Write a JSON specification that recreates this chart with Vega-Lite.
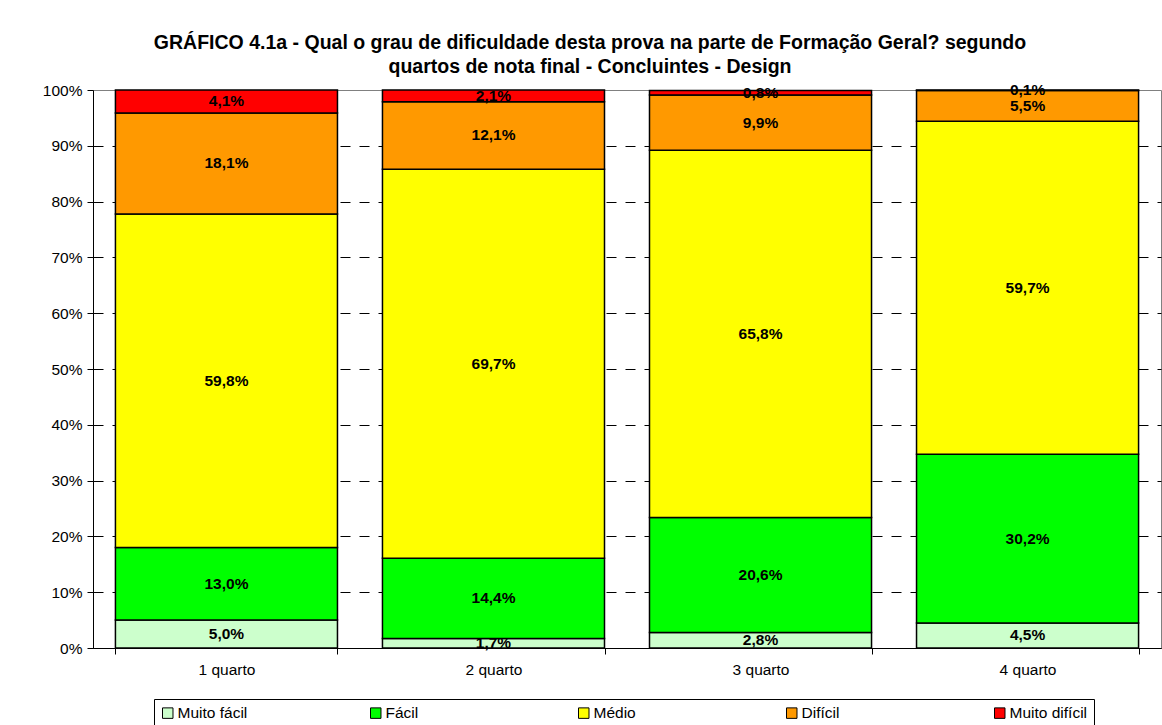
{
  "$schema": "https://vega.github.io/schema/vega-lite/v6.json",
  "width": 1068,
  "height": 558,
  "autosize": {"type": "none"},
  "padding": {"left": 93, "top": 90, "right": 1, "bottom": 77},
  "background": "white",
  "config": {
    "locale": {"number": {"decimal": ",", "thousands": ".", "grouping": [3], "currency": ["R$", ""]}},
    "font": "Liberation Sans",
    "view": {"stroke": "#808080", "strokeWidth": 1}
  },
  "title": {
    "text": ["GRÁFICO 4.1a - Qual o grau de dificuldade desta prova na parte de Formação Geral? segundo", "quartos de nota final  - Concluintes - Design"],
    "fontSize": 19.5,
    "fontWeight": "bold",
    "font": "Liberation Sans",
    "color": "black",
    "anchor": "middle",
    "dx": -37,
    "lineHeight": 24,
    "offset": 6
  },
  "data": {
    "values": [
      {"quarto": "1 quarto", "categoria": "Muito fácil", "nivel": 1, "pct": 0.050},
      {"quarto": "1 quarto", "categoria": "Fácil", "nivel": 2, "pct": 0.130},
      {"quarto": "1 quarto", "categoria": "Médio", "nivel": 3, "pct": 0.598},
      {"quarto": "1 quarto", "categoria": "Difícil", "nivel": 4, "pct": 0.181},
      {"quarto": "1 quarto", "categoria": "Muito difícil", "nivel": 5, "pct": 0.041},
      {"quarto": "2 quarto", "categoria": "Muito fácil", "nivel": 1, "pct": 0.017},
      {"quarto": "2 quarto", "categoria": "Fácil", "nivel": 2, "pct": 0.144},
      {"quarto": "2 quarto", "categoria": "Médio", "nivel": 3, "pct": 0.697},
      {"quarto": "2 quarto", "categoria": "Difícil", "nivel": 4, "pct": 0.121},
      {"quarto": "2 quarto", "categoria": "Muito difícil", "nivel": 5, "pct": 0.021},
      {"quarto": "3 quarto", "categoria": "Muito fácil", "nivel": 1, "pct": 0.028},
      {"quarto": "3 quarto", "categoria": "Fácil", "nivel": 2, "pct": 0.206},
      {"quarto": "3 quarto", "categoria": "Médio", "nivel": 3, "pct": 0.658},
      {"quarto": "3 quarto", "categoria": "Difícil", "nivel": 4, "pct": 0.099},
      {"quarto": "3 quarto", "categoria": "Muito difícil", "nivel": 5, "pct": 0.008},
      {"quarto": "4 quarto", "categoria": "Muito fácil", "nivel": 1, "pct": 0.045},
      {"quarto": "4 quarto", "categoria": "Fácil", "nivel": 2, "pct": 0.302},
      {"quarto": "4 quarto", "categoria": "Médio", "nivel": 3, "pct": 0.597},
      {"quarto": "4 quarto", "categoria": "Difícil", "nivel": 4, "pct": 0.055},
      {"quarto": "4 quarto", "categoria": "Muito difícil", "nivel": 5, "pct": 0.001}
    ]
  },
  "layer": [
    {
      "mark": {"type": "bar", "stroke": "black", "strokeWidth": 1.5},
      "encoding": {
        "x": {
          "field": "quarto", "type": "nominal",
          "scale": {"paddingInner": 0.1685, "paddingOuter": 0.084},
          "axis": {
            "title": null, "labelAngle": 0, "labelFontSize": 15.5, "labelColor": "black",
            "labelFont": "Liberation Sans", "tickBand": "extent", "tickColor": "black",
            "tickSize": 6, "domainColor": "black", "labelPadding": 8, "grid": false
          }
        },
        "y": {
          "field": "pct", "type": "quantitative", "stack": "zero",
          "scale": {"domain": [0, 1], "nice": false},
          "axis": {
            "title": null,
            "values": [0, 0.1, 0.2, 0.3, 0.4, 0.5, 0.6, 0.7, 0.8, 0.9, 1],
            "format": ".0%", "labelFontSize": 15.5, "labelColor": "black",
            "labelFont": "Liberation Sans", "tickColor": "black", "tickSize": 6,
            "domainColor": "black", "labelPadding": 5, "grid": true,
            "gridColor": "black", "gridDash": [10, 9],
            "gridOpacity": {"condition": {"test": "datum.value >= 1", "value": 0}, "value": 1}
          }
        },
        "color": {
          "field": "categoria", "type": "nominal",
          "sort": ["Muito fácil", "Fácil", "Médio", "Difícil", "Muito difícil"],
          "scale": {
            "domain": ["Muito fácil", "Fácil", "Médio", "Difícil", "Muito difícil"],
            "range": ["#CCFFCC", "#00FF00", "#FFFF00", "#FF9900", "#FF0000"]
          },
          "legend": {
            "orient": "none", "legendX": 61, "legendY": 609,
            "direction": "horizontal", "columns": 5, "gridAlign": "all",
            "title": null, "symbolType": "square", "symbolSize": 110,
            "symbolStrokeColor": "black", "symbolStrokeWidth": 1, "symbolOpacity": 1,
            "labelFontSize": 15.5, "labelColor": "black", "labelFont": "Liberation Sans",
            "labelOffset": 2, "columnPadding": 112,
            "strokeColor": "black", "fillColor": "white", "padding": 6
          }
        },
        "order": {"field": "nivel", "type": "quantitative", "sort": "ascending"}
      }
    },
    {
      "transform": [
        {"stack": "pct", "groupby": ["quarto"], "sort": [{"field": "nivel", "order": "ascending"}], "as": ["base", "topo"]},
        {"calculate": "(datum.base + datum.topo) / 2", "as": "meio"}
      ],
      "mark": {"type": "text", "fontWeight": "bold", "fontSize": 15.5, "color": "black", "baseline": "middle", "font": "Liberation Sans"},
      "encoding": {
        "x": {"field": "quarto", "type": "nominal"},
        "y": {"field": "meio", "type": "quantitative"},
        "text": {"field": "pct", "type": "quantitative", "format": ".1%"}
      }
    }
  ]
}
